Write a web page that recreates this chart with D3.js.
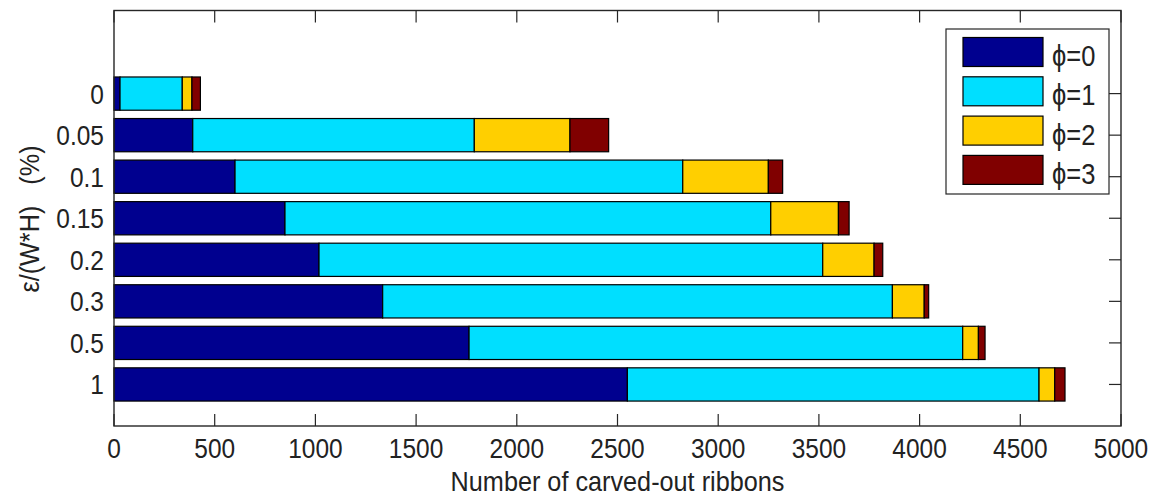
<!DOCTYPE html>
<html>
<head>
<meta charset="utf-8">
<script src="https://cdn.jsdelivr.net/npm/d3@7"></script>
<style>
  html, body { margin: 0; padding: 0; background: #fff; }
  svg { display: block; }
  text { font-family: "Liberation Sans", Arial, sans-serif; fill: #222; }
</style>
</head>
<body>
<svg id="chart" width="1157" height="496"></svg>
<script>
// Threshold ε/(W*H) in percent, listed top to bottom
const categories = ["0", "0.05", "0.1", "0.15", "0.2", "0.3", "0.5", "1"];
const seriesNames = ["ϕ=0", "ϕ=1", "ϕ=2", "ϕ=3"];
// Ribbon counts per category for each ϕ
const phi0 = [30, 391, 601, 849, 1018, 1334, 1763, 2549];
const phi1 = [309, 1398, 2223, 2412, 2501, 2531, 2451, 2044];
const phi2 = [48, 475, 425, 336, 255, 158, 78, 78];
const phi3 = [42, 192, 71, 53, 43, 22, 33, 51];
const xTicks = [0, 500, 1000, 1500, 2000, 2500, 3000, 3500, 4000, 4500, 5000];
const colors = ["#00008f", "#00dfff", "#ffcf00", "#800000"];

const rows = categories.map((c, i) => ({
  cat: c, pos: categories.length - i,
  "ϕ=0": phi0[i], "ϕ=1": phi1[i], "ϕ=2": phi2[i], "ϕ=3": phi3[i]
}));

const svg = d3.select("#chart");
const plotL = 114, plotR = 1121, plotT = 10.5, plotB = 426;

const x = d3.scaleLinear().domain([0, 5000]).range([plotL, plotR]);
const y = d3.scaleLinear().domain([0, 10]).range([plotB, plotT]);
const barH = (y(0) - y(0.8));
const tickLen = 12;
const fontSize = 24.5;
const stretch = "scale(1,1.12)";   // taller, narrower lettering

// tick marks pointing inward (drawn beneath the bars)
const ticks = svg.append("g").attr("stroke", "#262626").attr("stroke-width", 1.2);
xTicks.forEach(v => {
  ticks.append("line").attr("x1", x(v)).attr("x2", x(v)).attr("y1", plotB).attr("y2", plotB - tickLen);
  ticks.append("line").attr("x1", x(v)).attr("x2", x(v)).attr("y1", plotT).attr("y2", plotT + tickLen);
});
rows.forEach(r => {
  ticks.append("line").attr("x1", plotL).attr("x2", plotL + tickLen).attr("y1", y(r.pos)).attr("y2", y(r.pos));
  ticks.append("line").attr("x1", plotR).attr("x2", plotR - tickLen).attr("y1", y(r.pos)).attr("y2", y(r.pos));
});

// stacked horizontal bars
const stacked = d3.stack().keys(seriesNames)(rows);
svg.append("g").selectAll("g").data(stacked).join("g")
  .attr("fill", (d, i) => colors[i])
  .selectAll("rect").data(d => d).join("rect")
  .attr("x", d => x(d[0]))
  .attr("width", d => x(d[1]) - x(d[0]))
  .attr("y", d => y(d.data.pos) - barH / 2)
  .attr("height", barH)
  .attr("stroke", "#000")
  .attr("stroke-width", 1.2);

// axes frame
svg.append("rect").attr("x", plotL).attr("y", plotT).attr("width", plotR - plotL).attr("height", plotB - plotT)
  .attr("fill", "none").attr("stroke", "#262626").attr("stroke-width", 1.4);

// x tick labels
svg.append("g").selectAll("text").data(xTicks).join("text")
  .attr("transform", d => `translate(${x(d)},${plotB + 32}) ${stretch}`)
  .attr("text-anchor", "middle").attr("font-size", fontSize)
  .text(d => d);

// y tick labels
svg.append("g").selectAll("text").data(rows).join("text")
  .attr("transform", d => `translate(104,${y(d.pos) + 10}) ${stretch}`)
  .attr("text-anchor", "end").attr("font-size", fontSize)
  .text(d => d.cat);

// axis titles
svg.append("text")
  .attr("transform", `translate(${(plotL + plotR) / 2},491) scale(1.03,1.12)`)
  .attr("text-anchor", "middle").attr("font-size", fontSize)
  .text("Number of carved-out ribbons");
svg.append("text")
  .attr("transform", "translate(39,219) rotate(-90) scale(1.03,1.12)")
  .attr("text-anchor", "middle").attr("font-size", fontSize)
  .attr("xml:space", "preserve")
  .text("ε/(W*H)   (%)");

// legend
const lg = svg.append("g");
lg.append("rect").attr("x", 946).attr("y", 29).attr("width", 163).attr("height", 165)
  .attr("fill", "#fff").attr("stroke", "#262626").attr("stroke-width", 1.2);
seriesNames.forEach((name, i) => {
  const cy = 52 + i * 39.3;
  lg.append("rect").attr("x", 963).attr("y", cy - 14.5).attr("width", 80).attr("height", 29)
    .attr("fill", colors[i]).attr("stroke", "#000").attr("stroke-width", 1.2);
  lg.append("text")
    .attr("transform", `translate(1052,${cy + 14}) scale(1,1.15)`)
    .attr("font-size", 25.5).text(name);
});
</script>
</body>
</html>
